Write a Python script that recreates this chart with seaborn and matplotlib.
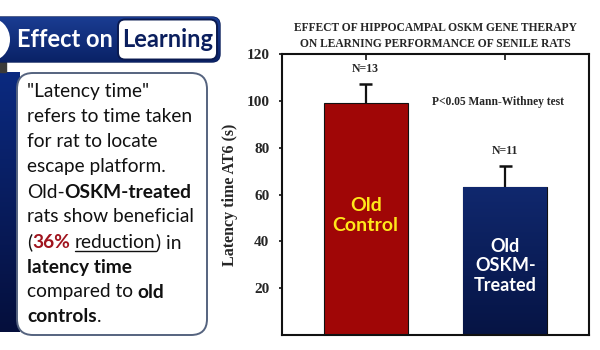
import matplotlib
matplotlib.use("Agg")
import matplotlib.pyplot as plt
from matplotlib.patches import FancyBboxPatch, Ellipse, Rectangle
from matplotlib.colors import LinearSegmentedColormap
import numpy as np
import seaborn as sns

# ---- data -------------------------------------------------------------
groups = ["Old Control", "Old OSKM-Treated"]
latency = [99, 63]          # mean latency time AT6 (s)
sem = [8, 9]                # upper error bar
n_rats = [13, 11]
bar_labels = ["Old\nControl", "Old\nOSKM-\nTreated"]
yticks = [20, 40, 60, 80, 100, 120]
title_lines = ["EFFECT OF HIPPOCAMPAL OSKM GENE THERAPY",
               "ON LEARNING PERFORMANCE OF SENILE RATS"]
stat_note = "P<0.05 Mann-Withney test"
ylabel = "Latency time AT6 (s)"

RED = "#A00606"
NAVY = "#0C2068"
SERIF = "Liberation Serif"
SANS = "Lato"

sns.set_style("ticks")
plt.rcParams["font.family"] = [SANS, "DejaVu Sans"]

fig = plt.figure(figsize=(6, 3.5), dpi=100)

# full-figure canvas in pixel units for the side panel
bg = fig.add_axes([0, 0, 1, 1], zorder=0)
bg.set_xlim(0, 600)
bg.set_ylim(350, 0)
bg.axis("off")

# ---- bar chart ----------------------------------------------------------
ax = fig.add_axes([282 / 600, 15 / 350, 307 / 600, 281 / 350], zorder=2)
sns.barplot(x=groups, y=latency, hue=groups, palette=[RED, NAVY],
            legend=False, width=0.6, edgecolor="#111111", linewidth=0.8,
            saturation=1, ax=ax)

# gradient on the treated bar
bar2 = ax.patches[1]
grad = np.linspace(0, 1, 256).reshape(-1, 1)
cm = LinearSegmentedColormap.from_list("navy", ["#10286E", "#061444"])
bx, bw = bar2.get_x(), bar2.get_width()
im = ax.imshow(grad, cmap=cm, aspect="auto",
               extent=[bx, bx + bw, 0, latency[1]], origin="upper", zorder=2)
im.set_clip_path(bar2)

# upper error bars with caps
xpos = np.arange(len(groups))
tops = np.array(latency) + np.array(sem)
ax.vlines(xpos, latency, tops, color="#111111", lw=1.6, zorder=4)
ax.hlines(tops, xpos - 0.048, xpos + 0.048, color="#111111", lw=1.8, zorder=4)

ax.set_xlim(-0.6, 1.6)
ax.set_ylim(0, 120)
ax.set_yticks(yticks)
ax.set_yticklabels([str(v) for v in yticks], fontfamily=SERIF,
                   fontweight="bold", fontsize=11)
ax.tick_params(axis="y", direction="out", length=2, width=1.2, pad=7,
               color="#111111")
ax.xaxis.tick_top()
ax.tick_params(axis="x", direction="in", length=4, width=1.2, top=True,
               bottom=False, labeltop=False, labelbottom=False,
               color="#111111")
ax.set_xlabel("")
ax.set_ylabel(ylabel, fontfamily=SERIF, fontweight="bold", fontsize=11.5,
              labelpad=6)
for s in ax.spines.values():
    s.set_visible(True)
    s.set_linewidth(1.5)
    s.set_color("#111111")

ax.set_title("\n".join(title_lines), fontfamily=SERIF, fontweight="bold",
             fontsize=8.3, linespacing=1.45, pad=5)

for i, n in enumerate(n_rats):
    ax.text(xpos[i], tops[i] + 6.5, f"N={n}", ha="center",
            va="center", fontfamily=SERIF, fontweight="bold", fontsize=8.5)

ax.text(0.95, 99.5, stat_note, ha="center", va="center", fontfamily=SERIF,
        fontweight="bold", fontsize=8.3)

label_y = [51, 29.5]
label_col = ["#FFE81A", "white"]
label_fs = [14, 13]
for i, lab in enumerate(bar_labels):
    ax.text(xpos[i], label_y[i], lab, ha="center", va="center",
            fontfamily=SANS, fontweight="bold", fontsize=label_fs[i],
            color=label_col[i], linespacing=1.2, zorder=5)

# ---- side panel ---------------------------------------------------------
# left gradient strip
strip_cm = LinearSegmentedColormap.from_list("strip", ["#0B2A80", "#050F3C"])
bg.imshow(grad, cmap=strip_cm, aspect="auto", extent=[0, 20, 332, 72],
          origin="upper", zorder=1)
bg.add_patch(Rectangle((0, 62), 6, 10, color="#3a3a3a", zorder=1))

# heading banner
banner = FancyBboxPatch((-12, 17), 232, 45,
                        boxstyle="round,pad=0,rounding_size=8",
                        facecolor="#0E2D80", edgecolor="#0A1E5A", lw=1.0,
                        zorder=2)
bg.add_patch(banner)
ban_cm = LinearSegmentedColormap.from_list("ban", ["#1A3C92", "#0A2266"])
bim = bg.imshow(grad, cmap=ban_cm, aspect="auto", extent=[-12, 220, 62, 17],
                origin="upper", zorder=2)
bim.set_clip_path(banner)
bg.add_patch(Ellipse((-11, 39.5), 42, 44, facecolor="white", edgecolor="none",
                     zorder=3))
bg.add_patch(FancyBboxPatch((118, 19.5), 99, 40,
                            boxstyle="round,pad=0,rounding_size=7",
                            facecolor="white", edgecolor="#0A1A50", lw=1.4,
                            zorder=3))
bg.text(17, 39.5, "Effect on", color="white", fontfamily=SANS,
        fontweight="bold", fontsize=17, va="center", ha="left", zorder=4)
bg.text(167.5, 39.5, "Learning", color="#0B1F5E", fontfamily=SANS,
        fontweight="bold", fontsize=17, va="center", ha="center", zorder=4)

# text box
bg.add_patch(FancyBboxPatch((17, 73), 190, 262,
                            boxstyle="round,pad=0,rounding_size=16",
                            facecolor="white", edgecolor="#55637F", lw=1.4,
                            zorder=3))

renderer = fig.canvas.get_renderer()


def text_width(s, **kw):
    a = bg.text(0, 0, "x" + s + "x", **kw)
    b = bg.text(0, 0, "xx", **kw)
    w = a.get_window_extent(renderer).width - b.get_window_extent(renderer).width
    a.remove()
    b.remove()
    return w


body_lines = [
    [('"Latency time"', "normal", "#111111", False)],
    [("refers to time taken", "normal", "#111111", False)],
    [("for rat to locate", "normal", "#111111", False)],
    [("escape platform.", "normal", "#111111", False)],
    [("Old-", "normal", "#111111", False),
     ("OSKM-treated", "bold", "#111111", False)],
    [("rats show beneficial", "normal", "#111111", False)],
    [("(", "normal", "#111111", False), ("36%", "bold", "#A0141E", False),
     (" ", "normal", "#111111", False), ("reduction", "normal", "#111111", True),
     (") in", "normal", "#111111", False)],
    [("latency time", "bold", "#111111", False)],
    [("compared to ", "normal", "#111111", False),
     ("old", "bold", "#111111", False)],
    [("controls", "bold", "#111111", False), (".", "normal", "#111111", False)],
]
line_y = [91.5, 116.5, 141.5, 166.5, 192, 216.5, 242.5, 267, 292, 316.5]
fs = 13.8
for y, segs in zip(line_y, body_lines):
    x = 27
    for txt, wt, col, ul in segs:
        kw = dict(fontfamily=SANS, fontweight=wt, fontsize=fs, color=col,
                  va="center", ha="left", zorder=5)
        bg.text(x, y, txt, **kw)
        w = text_width(txt, **kw)
        if ul:
            bg.plot([x, x + w], [y + 8.5, y + 8.5], color=col, lw=1.0,
                    zorder=5)
        x += w

fig.savefig("out.png", dpi=100)
